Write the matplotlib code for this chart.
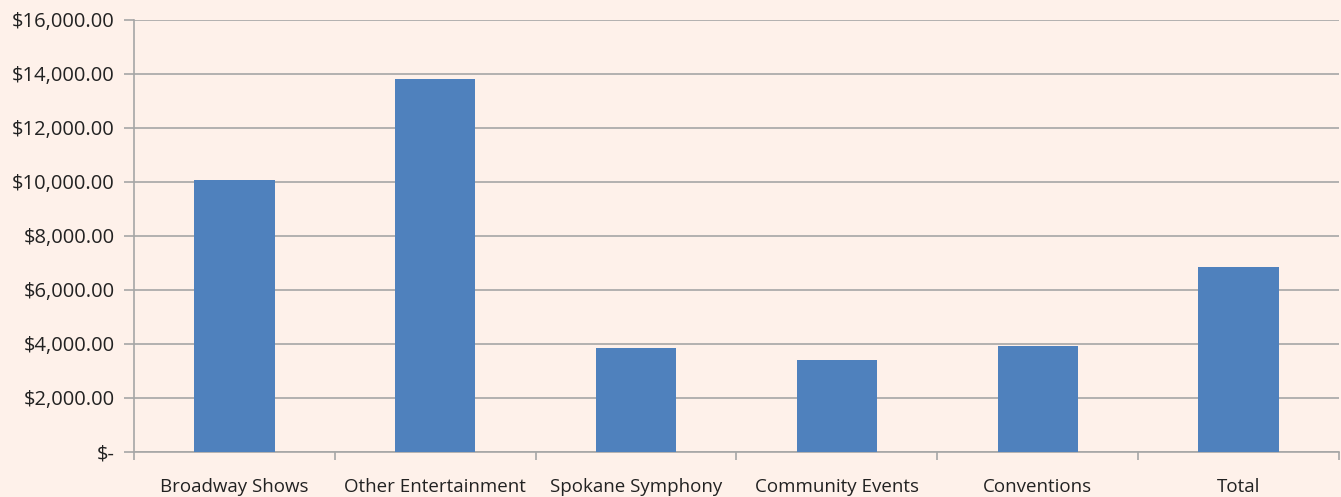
import numpy as np
import matplotlib
matplotlib.use("Agg")
import matplotlib.pyplot as plt
from matplotlib.ticker import FuncFormatter, FixedLocator

categories = ["Broadway Shows", "Other Entertainment", "Spokane Symphony",
              "Community Events", "Conventions", "Total"]
values = [10080, 13810, 3850, 3410, 3920, 6850]

bg = "#FEF1EA"
grid_col = "#A6A6A6"

plt.rcParams["font.family"] = ["Open Sans", "DejaVu Sans"]

fig = plt.figure(figsize=(13.41, 4.97), dpi=100, facecolor=bg)
ax = fig.add_axes([134 / 1341, 45 / 497, 1205 / 1341, 432 / 497])
ax.set_facecolor(bg)

x = np.arange(len(categories))
ax.bar(x, values, width=0.4, color="#4F81BD", zorder=3)

ax.set_xlim(-0.5, len(categories) - 0.5)
ax.set_ylim(0, 16000)
ax.set_yticks(np.arange(0, 16001, 2000))


def money(v, pos):
    if v == 0:
        return "$-"
    return f"${v:,.2f}"


ax.yaxis.set_major_formatter(FuncFormatter(money))
ax.yaxis.grid(True, color=grid_col, linewidth=1.2, zorder=0)

ax.set_xticks(x)
ax.set_xticklabels(categories)
ax.xaxis.set_minor_locator(FixedLocator(np.arange(-0.5, len(categories), 1)))
ax.tick_params(axis="x", which="major", length=0, pad=19, labelsize=13.5, labelcolor="#222222")
ax.tick_params(axis="x", which="minor", length=6, color=grid_col, width=1.2)
ax.tick_params(axis="y", length=7, color=grid_col, width=1.2, labelsize=14.5,
               labelcolor="#222222", pad=7)

for side in ["top", "right"]:
    ax.spines[side].set_visible(False)
for side in ["left", "bottom"]:
    ax.spines[side].set_color(grid_col)
    ax.spines[side].set_linewidth(1.2)

fig.savefig("out.png", dpi=100, facecolor=bg)
